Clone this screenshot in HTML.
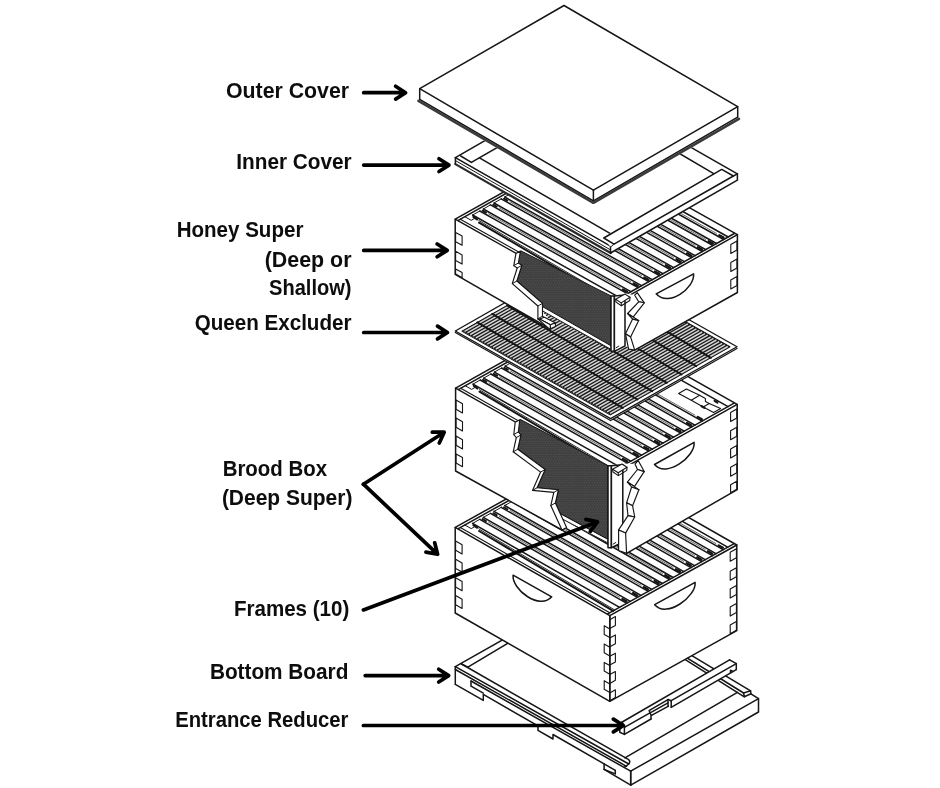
<!DOCTYPE html>
<html><head><meta charset="utf-8"><title>Beehive components</title>
<style>
html,body{margin:0;padding:0;background:#fff;}
body{width:940px;height:788px;overflow:hidden;}
svg{display:block;}
text{font-family:"Liberation Sans",sans-serif;font-weight:bold;font-size:21.4px;fill:#0a0a0a;}
</style></head><body>
<svg width="940" height="788" viewBox="0 0 940 788">
<rect width="940" height="788" fill="#fff"/>
<defs><pattern id="comb" width="2.6" height="4.4" patternUnits="userSpaceOnUse"><rect width="2.6" height="4.4" fill="#3f3f3f"/><circle cx="0.65" cy="1.1" r="0.5" fill="#636363"/><circle cx="1.95" cy="3.3" r="0.5" fill="#636363"/></pattern><filter id="soft" x="-2%" y="-2%" width="104%" height="104%"><feGaussianBlur stdDeviation="0.33"/></filter></defs>
<g stroke-linecap="round" stroke-linejoin="round" filter="url(#soft)">
<path d="M455.3,666.7 L583.1,594.1 L758.5,698.6 L758.5,712.0 L630.7,785.2 L455.3,684.3Z" fill="#fff" stroke="none"/>
<path d="M455.3,666.7 L583.1,594.1" fill="none" stroke="#141414" stroke-width="1.5" />
<path d="M467.9,667.2 L527.9,631.2" fill="none" stroke="#141414" stroke-width="1.5" />
<path d="M461.5,664.0 L467.9,667.2" fill="none" stroke="#141414" stroke-width="1.5" />
<path d="M750.6,690.8 L670.6,642.8" fill="none" stroke="#141414" stroke-width="1.5" />
<path d="M743.6,693.0 L663.6,643.4" fill="none" stroke="#141414" stroke-width="1.5" />
<path d="M744.3,696.8 L664.3,646.4" fill="none" stroke="#141414" stroke-width="1.5" />
<path d="M743.6,693.0 L750.6,690.8 L750.9,693.8 L744.3,696.8 L743.6,693.0" fill="none" stroke="#141414" stroke-width="1.5" />
<path d="M750.9,693.8 L758.5,698.6" fill="none" stroke="#141414" stroke-width="1.5" />
<path d="M630.7,771.2 L758.5,698.6 L758.5,712.0 L630.7,785.2 L630.7,771.2" fill="none" stroke="#141414" stroke-width="1.5" />
<path d="M630.7,771.2 L630.7,785.2" fill="none" stroke="#141414" stroke-width="1.5" />
<path d="M624.9,757.8 L737.4,692.4" fill="none" stroke="#141414" stroke-width="1.5" />
<path d="M461.5,664.0 L626.5,758.4" fill="none" stroke="#141414" stroke-width="1.5" />
<path d="M455.3,666.7 L628.8,764.0" fill="none" stroke="#141414" stroke-width="1.5" />
<path d="M455.3,669.5 L626.5,766.3" fill="none" stroke="#141414" stroke-width="1.5" />
<path d="M471.0,681.0 L630.7,771.2" fill="none" stroke="#141414" stroke-width="1.5" />
<path d="M626.5,758.4 Q631.5,760.5 628.8,764 L624.5,767.2" fill="none" stroke="#141414" stroke-width="1.5"/>
<path d="M455.3,666.7 L455.3,684.3" fill="none" stroke="#141414" stroke-width="1.5" />
<path d="M455.3,684.3 L483.3,700.4 L483.3,694.4 L538.0,725.9 L538.0,730.4 L553.0,739.0 L553.0,734.5 L604.1,763.9 L604.1,769.4 L615.3,773.9 L615.3,770.4" fill="none" stroke="#141414" stroke-width="1.5" />
<path d="M604.1,763.9 L615.3,770.4" fill="none" stroke="#141414" stroke-width="1.5" />
<path d="M604.1,769.4 L630.7,785.2" fill="none" stroke="#141414" stroke-width="1.5" />
<path d="M471.0,681.0 L471.0,686.2 L483.3,693.2" fill="none" stroke="#141414" stroke-width="1.5" />
<path d="M622.2,722.0 L729.6,659.8 L736.3,663.6 L736.3,669.6 L624.4,734.4 L619.6,732.0 L619.6,727.0Z" fill="#fff" stroke="none"/>
<path d="M622.2,722.0 L729.6,659.8" fill="none" stroke="#141414" stroke-width="1.5" />
<path d="M624.4,727.4 L650.4,712.6" fill="none" stroke="#141414" stroke-width="1.5" />
<path d="M624.4,734.4 L651.0,719.0" fill="none" stroke="#141414" stroke-width="1.5" />
<path d="M651.0,719.0 L651.0,715.0 L649.2,710.6" fill="none" stroke="#141414" stroke-width="1.5" />
<path d="M649.4,710.3 L668.0,699.7" fill="none" stroke="#141414" stroke-width="1.5" />
<path d="M651.5,712.1 L668.0,702.9" fill="none" stroke="#141414" stroke-width="1.5" />
<path d="M651.5,715.3 L668.5,706.1" fill="none" stroke="#141414" stroke-width="1.5" />
<path d="M668.0,699.5 L668.0,706.1" fill="none" stroke="#141414" stroke-width="1.5" />
<path d="M671.2,700.7 L671.2,707.3" fill="none" stroke="#141414" stroke-width="1.5" />
<path d="M668.0,699.5 L671.2,700.7" fill="none" stroke="#141414" stroke-width="1.5" />
<path d="M671.2,700.7 L736.3,663.6" fill="none" stroke="#141414" stroke-width="1.5" />
<path d="M671.2,707.3 L736.3,669.6" fill="none" stroke="#141414" stroke-width="1.5" />
<path d="M729.6,659.8 L736.3,663.6 L736.3,669.6" fill="none" stroke="#141414" stroke-width="1.5" />
<path d="M733.0,671.4 L730.5,670.2 L730.5,672.8" fill="none" stroke="#141414" stroke-width="1.5" />
<path d="M622.2,722 L624.4,727.4 L624.4,734.4 L619.8,732.2 L619.8,726.5 Q620,723 622.2,722Z" fill="#fff" stroke="#141414" stroke-width="1.5"/>
<path d="M455.2,527.4 L582.2,456.7 L736.8,545.0 L736.8,630.6 L609.8,701.3 L455.2,613.0Z" fill="#fff" stroke="none"/>
<path d="M455.2,527.4 L582.2,456.7 L736.8,545.0 L609.8,615.7Z" fill="none" stroke="#141414" stroke-width="1.5" />
<path d="M460.3,527.5 L609.7,612.8" fill="none" stroke="#141414" stroke-width="1.1" />
<path d="M458.3,528.6 L584.3,458.5" fill="none" stroke="#141414" stroke-width="1.5" />
<path d="M607.7,613.9 L733.7,543.8" fill="none" stroke="#141414" stroke-width="1.5" />
<path d="M578.2,461.9 L727.6,547.2" fill="none" stroke="#141414" stroke-width="1.5" />
<path d="M479.1,531.0 L613.1,610.9" fill="none" stroke="#141414" stroke-width="2.0" />
<path d="M478.8,528.9 L614.8,610.0" fill="none" stroke="#141414" stroke-width="0.9" />
<path d="M473.4,525.2 L477.0,527.7" fill="none" stroke="#141414" stroke-width="2.2" />
<path d="M464.8,525.0 L471.2,528.6 L474.2,527.0" fill="none" stroke="#141414" stroke-width="1.0" />
<path d="M472.6,523.4 L619.6,607.3" fill="none" stroke="#141414" stroke-width="1.5" />
<path d="M479.8,519.3 L626.8,603.3" fill="none" stroke="#141414" stroke-width="1.5" />
<path d="M472.6,523.4 L479.8,519.3" fill="none" stroke="#141414" stroke-width="1.0" />
<path d="M488.6,522.3 L619.6,597.2" fill="none" stroke="#444" stroke-width="0.8" />
<path d="M622.4,599.0 L626.6,601.4" fill="none" stroke="#141414" stroke-width="2.3" />
<path d="M482.6,519.1 L486.0,521.1" fill="none" stroke="#141414" stroke-width="1.9" />
<path d="M483.3,517.4 L630.3,601.4" fill="none" stroke="#141414" stroke-width="1.5" />
<path d="M490.5,513.4 L637.5,597.3" fill="none" stroke="#141414" stroke-width="1.5" />
<path d="M483.3,517.4 L490.5,513.4" fill="none" stroke="#141414" stroke-width="1.0" />
<path d="M499.3,516.4 L630.3,591.2" fill="none" stroke="#444" stroke-width="0.8" />
<path d="M633.1,593.0 L637.3,595.4" fill="none" stroke="#141414" stroke-width="2.3" />
<path d="M493.3,513.2 L496.7,515.1" fill="none" stroke="#141414" stroke-width="1.9" />
<path d="M494.0,511.4 L641.0,595.4" fill="none" stroke="#141414" stroke-width="1.5" />
<path d="M501.2,507.4 L648.2,591.4" fill="none" stroke="#141414" stroke-width="1.5" />
<path d="M494.0,511.4 L501.2,507.4" fill="none" stroke="#141414" stroke-width="1.0" />
<path d="M510.0,510.4 L641.0,585.2" fill="none" stroke="#444" stroke-width="0.8" />
<path d="M643.8,587.1 L648.0,589.5" fill="none" stroke="#141414" stroke-width="2.3" />
<path d="M504.0,507.2 L507.4,509.2" fill="none" stroke="#141414" stroke-width="1.9" />
<path d="M504.7,505.5 L651.7,589.4" fill="none" stroke="#141414" stroke-width="1.5" />
<path d="M511.9,501.5 L658.9,585.4" fill="none" stroke="#141414" stroke-width="1.5" />
<path d="M504.7,505.5 L511.9,501.5" fill="none" stroke="#141414" stroke-width="1.0" />
<path d="M520.7,504.5 L651.7,579.3" fill="none" stroke="#444" stroke-width="0.8" />
<path d="M654.5,581.1 L658.7,583.5" fill="none" stroke="#141414" stroke-width="2.3" />
<path d="M514.7,501.3 L518.1,503.2" fill="none" stroke="#141414" stroke-width="1.9" />
<path d="M515.4,499.5 L662.4,583.5" fill="none" stroke="#141414" stroke-width="1.5" />
<path d="M522.6,495.5 L669.6,579.5" fill="none" stroke="#141414" stroke-width="1.5" />
<path d="M515.4,499.5 L522.6,495.5" fill="none" stroke="#141414" stroke-width="1.0" />
<path d="M531.4,498.5 L662.4,573.3" fill="none" stroke="#444" stroke-width="0.8" />
<path d="M665.2,575.2 L669.4,577.6" fill="none" stroke="#141414" stroke-width="2.3" />
<path d="M525.4,495.3 L528.8,497.3" fill="none" stroke="#141414" stroke-width="1.9" />
<path d="M526.1,493.6 L673.1,577.5" fill="none" stroke="#141414" stroke-width="1.5" />
<path d="M533.3,489.6 L680.3,573.5" fill="none" stroke="#141414" stroke-width="1.5" />
<path d="M526.1,493.6 L533.3,489.6" fill="none" stroke="#141414" stroke-width="1.0" />
<path d="M542.1,492.6 L673.1,567.4" fill="none" stroke="#444" stroke-width="0.8" />
<path d="M675.9,569.2 L680.1,571.6" fill="none" stroke="#141414" stroke-width="2.3" />
<path d="M536.1,489.4 L539.5,491.3" fill="none" stroke="#141414" stroke-width="1.9" />
<path d="M536.8,487.6 L683.8,571.6" fill="none" stroke="#141414" stroke-width="1.5" />
<path d="M544.0,483.6 L691.0,567.6" fill="none" stroke="#141414" stroke-width="1.5" />
<path d="M536.8,487.6 L544.0,483.6" fill="none" stroke="#141414" stroke-width="1.0" />
<path d="M552.8,486.6 L683.8,561.4" fill="none" stroke="#444" stroke-width="0.8" />
<path d="M686.6,563.2 L690.8,565.6" fill="none" stroke="#141414" stroke-width="2.3" />
<path d="M546.8,483.4 L550.2,485.3" fill="none" stroke="#141414" stroke-width="1.9" />
<path d="M547.5,481.7 L694.5,565.6" fill="none" stroke="#141414" stroke-width="1.5" />
<path d="M554.7,477.6 L701.7,561.6" fill="none" stroke="#141414" stroke-width="1.5" />
<path d="M547.5,481.7 L554.7,477.6" fill="none" stroke="#141414" stroke-width="1.0" />
<path d="M563.5,480.6 L694.5,555.5" fill="none" stroke="#444" stroke-width="0.8" />
<path d="M697.3,557.3 L701.5,559.7" fill="none" stroke="#141414" stroke-width="2.3" />
<path d="M557.5,477.4 L560.9,479.4" fill="none" stroke="#141414" stroke-width="1.9" />
<path d="M558.2,475.7 L705.2,559.7" fill="none" stroke="#141414" stroke-width="1.5" />
<path d="M565.4,471.7 L712.4,555.7" fill="none" stroke="#141414" stroke-width="1.5" />
<path d="M558.2,475.7 L565.4,471.7" fill="none" stroke="#141414" stroke-width="1.0" />
<path d="M574.2,474.7 L705.2,549.5" fill="none" stroke="#444" stroke-width="0.8" />
<path d="M708.0,551.3 L712.2,553.7" fill="none" stroke="#141414" stroke-width="2.3" />
<path d="M568.2,471.5 L571.6,473.4" fill="none" stroke="#141414" stroke-width="1.9" />
<path d="M568.9,469.7 L715.9,553.7" fill="none" stroke="#141414" stroke-width="1.5" />
<path d="M576.1,465.7 L723.1,549.7" fill="none" stroke="#141414" stroke-width="1.5" />
<path d="M568.9,469.7 L576.1,465.7" fill="none" stroke="#141414" stroke-width="1.0" />
<path d="M584.9,468.7 L715.9,543.6" fill="none" stroke="#444" stroke-width="0.8" />
<path d="M718.7,545.4 L722.9,547.8" fill="none" stroke="#141414" stroke-width="2.3" />
<path d="M578.9,465.5 L582.3,467.5" fill="none" stroke="#141414" stroke-width="1.9" />
<path d="M455.2,527.4 L455.2,613.0 L609.8,701.3 L609.8,615.7" fill="none" stroke="#141414" stroke-width="1.5" />
<path d="M609.8,615.7 L609.8,701.3 L736.8,630.6 L736.8,545.0" fill="none" stroke="#141414" stroke-width="1.5" />
<path d="M455.6,541.1 L462.1,544.8 L462.1,554.0 L455.6,550.3Z" fill="none" stroke="#141414" stroke-width="1.1" />
<path d="M455.6,559.2 L462.1,562.9 L462.1,572.1 L455.6,568.4Z" fill="none" stroke="#141414" stroke-width="1.1" />
<path d="M455.6,577.8 L462.1,581.5 L462.1,590.7 L455.6,587.0Z" fill="none" stroke="#141414" stroke-width="1.1" />
<path d="M455.6,595.6 L462.1,599.3 L462.1,608.5 L455.6,604.8Z" fill="none" stroke="#141414" stroke-width="1.1" />
<path d="M736.4,548.8 L730.2,552.3 L730.2,561.3 L736.4,557.8Z" fill="none" stroke="#141414" stroke-width="1.1" />
<path d="M736.4,567.8 L730.2,571.3 L730.2,580.3 L736.4,576.8Z" fill="none" stroke="#141414" stroke-width="1.1" />
<path d="M736.4,585.6 L730.2,589.1 L730.2,598.1 L736.4,594.6Z" fill="none" stroke="#141414" stroke-width="1.1" />
<path d="M736.4,603.6 L730.2,607.1 L730.2,616.1 L736.4,612.6Z" fill="none" stroke="#141414" stroke-width="1.1" />
<path d="M736.4,621.6 L730.2,625.1 L730.2,633.8 L736.4,630.3Z" fill="none" stroke="#141414" stroke-width="1.1" />
<path d="M609.8,619.7 L615.4,616.6 L615.4,625.4 L609.8,628.5" fill="none" stroke="#141414" stroke-width="1.1" />
<path d="M609.8,629.0 L604.2,625.8 L604.2,634.4 L609.8,637.6" fill="none" stroke="#141414" stroke-width="1.1" />
<path d="M609.8,638.0 L615.4,634.9 L615.4,643.7 L609.8,646.8" fill="none" stroke="#141414" stroke-width="1.1" />
<path d="M609.8,647.3 L604.2,644.1 L604.2,652.7 L609.8,655.9" fill="none" stroke="#141414" stroke-width="1.1" />
<path d="M609.8,656.3 L615.4,653.2 L615.4,662.0 L609.8,665.1" fill="none" stroke="#141414" stroke-width="1.1" />
<path d="M609.8,665.6 L604.2,662.4 L604.2,671.0 L609.8,674.2" fill="none" stroke="#141414" stroke-width="1.1" />
<path d="M609.8,674.6 L615.4,671.5 L615.4,680.3 L609.8,683.4" fill="none" stroke="#141414" stroke-width="1.1" />
<path d="M609.8,683.9 L604.2,680.7 L604.2,689.3 L609.8,692.5" fill="none" stroke="#141414" stroke-width="1.1" />
<path d="M609.8,692.9 L615.4,689.8 L615.4,697.6 L609.8,700.7" fill="none" stroke="#141414" stroke-width="1.1" />
<path d="M654.7,604.7 L695.1,582.3 C696.6,596.3 666.7,618.7 654.7,604.7" fill="none" stroke="#141414" stroke-width="1.5"/>
<path d="M551.7,596.8 L513.1,575.2 C511.6,589.2 539.7,610.8 551.7,596.8" fill="none" stroke="#141414" stroke-width="1.5"/>
<path d="M455.6,388.2 L582.5,317.0 L737.2,404.4 L737.2,489.6 L626.6,553.3 L622.8,542.2 L611.4,547.7 L608.0,547.7 L608.0,543.0 L559.1,517.3 L566.6,527.4 L562.0,530.0 L455.6,471.0Z" fill="#fff" stroke="none"/>
<path d="M455.6,388.2 L582.5,317.0 L737.2,404.4 L610.3,475.6Z" fill="none" stroke="#141414" stroke-width="1.5" />
<path d="M460.7,388.3 L610.2,472.7" fill="none" stroke="#141414" stroke-width="1.1" />
<path d="M458.7,389.4 L584.6,318.7" fill="none" stroke="#141414" stroke-width="1.5" />
<path d="M608.2,473.9 L734.1,403.2" fill="none" stroke="#141414" stroke-width="1.5" />
<path d="M578.5,322.2 L728.0,406.6" fill="none" stroke="#141414" stroke-width="1.5" />
<path d="M479.5,391.7 L613.6,470.8" fill="none" stroke="#141414" stroke-width="2.0" />
<path d="M479.2,389.6 L615.3,469.9" fill="none" stroke="#141414" stroke-width="0.9" />
<path d="M473.8,385.9 L477.4,388.4" fill="none" stroke="#141414" stroke-width="2.2" />
<path d="M465.2,385.7 L471.6,389.4 L474.6,387.7" fill="none" stroke="#141414" stroke-width="1.0" />
<path d="M473.0,384.1 L620.1,467.2" fill="none" stroke="#141414" stroke-width="1.5" />
<path d="M480.2,380.0 L627.3,463.1" fill="none" stroke="#141414" stroke-width="1.5" />
<path d="M473.0,384.1 L480.2,380.0" fill="none" stroke="#141414" stroke-width="1.0" />
<path d="M489.0,383.0 L620.1,457.0" fill="none" stroke="#444" stroke-width="0.8" />
<path d="M622.9,458.9 L627.1,461.2" fill="none" stroke="#141414" stroke-width="2.3" />
<path d="M483.0,379.8 L486.4,381.7" fill="none" stroke="#141414" stroke-width="1.9" />
<path d="M483.7,378.1 L630.8,461.2" fill="none" stroke="#141414" stroke-width="1.5" />
<path d="M490.9,374.0 L638.0,457.1" fill="none" stroke="#141414" stroke-width="1.5" />
<path d="M483.7,378.1 L490.9,374.0" fill="none" stroke="#141414" stroke-width="1.0" />
<path d="M499.7,377.0 L630.8,451.1" fill="none" stroke="#444" stroke-width="0.8" />
<path d="M633.6,452.9 L637.8,455.2" fill="none" stroke="#141414" stroke-width="2.3" />
<path d="M493.7,373.8 L497.1,375.7" fill="none" stroke="#141414" stroke-width="1.9" />
<path d="M494.4,372.1 L641.5,455.2" fill="none" stroke="#141414" stroke-width="1.5" />
<path d="M501.6,368.0 L648.7,451.1" fill="none" stroke="#141414" stroke-width="1.5" />
<path d="M494.4,372.1 L501.6,368.0" fill="none" stroke="#141414" stroke-width="1.0" />
<path d="M510.4,371.0 L641.5,445.1" fill="none" stroke="#444" stroke-width="0.8" />
<path d="M644.3,446.9 L648.5,449.2" fill="none" stroke="#141414" stroke-width="2.3" />
<path d="M504.4,367.8 L507.8,369.7" fill="none" stroke="#141414" stroke-width="1.9" />
<path d="M505.1,366.1 L652.2,449.2" fill="none" stroke="#141414" stroke-width="1.5" />
<path d="M512.3,362.0 L659.4,445.1" fill="none" stroke="#141414" stroke-width="1.5" />
<path d="M505.1,366.1 L512.3,362.0" fill="none" stroke="#141414" stroke-width="1.0" />
<path d="M521.1,365.0 L652.2,439.1" fill="none" stroke="#444" stroke-width="0.8" />
<path d="M655.0,440.9 L659.2,443.2" fill="none" stroke="#141414" stroke-width="2.3" />
<path d="M515.1,361.8 L518.5,363.7" fill="none" stroke="#141414" stroke-width="1.9" />
<path d="M515.8,360.1 L662.9,443.2" fill="none" stroke="#141414" stroke-width="1.5" />
<path d="M523.0,356.0 L670.1,439.1" fill="none" stroke="#141414" stroke-width="1.5" />
<path d="M515.8,360.1 L523.0,356.0" fill="none" stroke="#141414" stroke-width="1.0" />
<path d="M531.7,359.0 L662.8,433.1" fill="none" stroke="#444" stroke-width="0.8" />
<path d="M665.6,434.9 L669.8,437.2" fill="none" stroke="#141414" stroke-width="2.3" />
<path d="M525.7,355.8 L529.1,357.7" fill="none" stroke="#141414" stroke-width="1.9" />
<path d="M526.4,354.1 L673.5,437.2" fill="none" stroke="#141414" stroke-width="1.5" />
<path d="M533.6,350.0 L680.7,433.1" fill="none" stroke="#141414" stroke-width="1.5" />
<path d="M526.4,354.1 L533.6,350.0" fill="none" stroke="#141414" stroke-width="1.0" />
<path d="M542.4,353.0 L673.5,427.1" fill="none" stroke="#444" stroke-width="0.8" />
<path d="M676.3,428.9 L680.5,431.2" fill="none" stroke="#141414" stroke-width="2.3" />
<path d="M536.4,349.8 L539.8,351.7" fill="none" stroke="#141414" stroke-width="1.9" />
<path d="M537.1,348.1 L684.2,431.2" fill="none" stroke="#141414" stroke-width="1.5" />
<path d="M544.3,344.0 L691.4,427.2" fill="none" stroke="#141414" stroke-width="1.5" />
<path d="M537.1,348.1 L544.3,344.0" fill="none" stroke="#141414" stroke-width="1.0" />
<path d="M553.1,347.0 L684.2,421.1" fill="none" stroke="#444" stroke-width="0.8" />
<path d="M687.0,422.9 L691.2,425.2" fill="none" stroke="#141414" stroke-width="2.3" />
<path d="M547.1,343.8 L550.5,345.7" fill="none" stroke="#141414" stroke-width="1.9" />
<path d="M547.8,342.1 L694.9,425.2" fill="none" stroke="#141414" stroke-width="1.5" />
<path d="M555.0,338.0 L702.1,421.2" fill="none" stroke="#141414" stroke-width="1.5" />
<path d="M547.8,342.1 L555.0,338.0" fill="none" stroke="#141414" stroke-width="1.0" />
<path d="M563.8,341.0 L694.9,415.1" fill="none" stroke="#444" stroke-width="0.8" />
<path d="M697.7,416.9 L701.9,419.2" fill="none" stroke="#141414" stroke-width="2.3" />
<path d="M557.8,337.8 L561.2,339.7" fill="none" stroke="#141414" stroke-width="1.9" />
<path d="M455.6,388.2 L455.6,471.0 L562.0,530.0" fill="none" stroke="#141414" stroke-width="1.5" />
<path d="M626.6,553.3 L737.2,489.6 L737.2,404.4" fill="none" stroke="#141414" stroke-width="1.5" />
<path d="M456.0,400.0 L462.5,403.7 L462.5,412.9 L456.0,409.2Z" fill="none" stroke="#141414" stroke-width="1.1" />
<path d="M456.0,418.1 L462.5,421.8 L462.5,431.0 L456.0,427.3Z" fill="none" stroke="#141414" stroke-width="1.1" />
<path d="M456.0,436.0 L462.5,439.7 L462.5,448.9 L456.0,445.2Z" fill="none" stroke="#141414" stroke-width="1.1" />
<path d="M456.0,453.9 L462.5,457.6 L462.5,466.8 L456.0,463.1Z" fill="none" stroke="#141414" stroke-width="1.1" />
<path d="M736.8,408.9 L730.6,412.4 L730.6,421.4 L736.8,417.9Z" fill="none" stroke="#141414" stroke-width="1.1" />
<path d="M736.8,427.2 L730.6,430.7 L730.6,439.7 L736.8,436.2Z" fill="none" stroke="#141414" stroke-width="1.1" />
<path d="M736.8,445.5 L730.6,449.0 L730.6,458.0 L736.8,454.5Z" fill="none" stroke="#141414" stroke-width="1.1" />
<path d="M736.8,463.8 L730.6,467.3 L730.6,476.3 L736.8,472.8Z" fill="none" stroke="#141414" stroke-width="1.1" />
<path d="M736.8,481.3 L730.6,484.8 L730.6,492.8 L736.8,489.3Z" fill="none" stroke="#141414" stroke-width="1.1" />
<path d="M654.5,464.5 L694.1,442.4 C695.6,456.4 666.5,478.5 654.5,464.5" fill="none" stroke="#141414" stroke-width="1.5"/>
<path d="M678.6,393.4 L686.4,389.0 L699.6,395.3 L691.3,400.3Z" fill="none" stroke="#141414" stroke-width="1.1" />
<path d="M703.2,406.9 L709.2,403.6 L720.6,408.6 L713.6,412.4Z" fill="none" stroke="#141414" stroke-width="1.1" />
<path d="M691.3,400.3 L703.2,406.9" fill="none" stroke="#141414" stroke-width="1.1" />
<path d="M699.6,395.3 L705.4,398.4 L705.4,401.6 L709.2,403.6" fill="none" stroke="#141414" stroke-width="1.1" />
<path d="M701.6,406.2 L704.4,407.8" fill="none" stroke="#141414" stroke-width="2.2" />
<path d="M714.6,400.9 L717.4,402.5" fill="none" stroke="#141414" stroke-width="2.2" />
<path d="M515.2,422.3 L513.8,434.5 L516.3,437.6 L513.2,451.8 L540.6,472.1 L532.5,490.4 L553.8,492.4 L550.8,505.6 L562.0,530.0 L566.6,527.4 L559.1,517.3 L608.0,543.0 L608.0,547.7 L611.4,547.7 L622.8,542.2 L626.6,553.3 L625.6,533.1 L634.7,517.0 L632.6,505.8 L638.9,489.8 L634.4,486.6 L644.2,471.6 L638.2,460.5 L635.0,464.0 L624.5,463.5 L608.0,465.8 L520.6,419.6Z" fill="#fff" stroke="none"/>
<path d="M520.6,419.6 L608.0,465.8 L608.0,539.4 L560.3,513.7 L555.4,503.0 L558.4,489.8 L537.1,487.8 L545.2,469.5 L517.8,449.2 L520.9,435.0 L518.4,431.9Z" fill="url(#comb)" stroke="#141414" stroke-width="1"/>
<path d="M560.3,513.7 L608.0,539.4 L608.0,543.0 L559.1,517.3Z" fill="#fff" stroke="#141414" stroke-width="1.0" />
<path d="M608.0,465.8 L611.4,465.8 L611.4,547.7 L608.0,547.7Z" fill="#fff" stroke="#141414" stroke-width="1.5" />
<path d="M611.4,465.8 L622.8,464.8 L622.8,542.2 L611.4,547.7Z" fill="#fff" stroke="#141414" stroke-width="1.5" />
<path d="M613.2,544.1 L615.8,542.5" fill="none" stroke="#141414" stroke-width="1.0" />
<path d="M612.6,469.2 L622.0,464.0 L627.0,467.2 L618.2,472.8Z" fill="#fff" stroke="#141414" stroke-width="1.1" />
<path d="M612.6,469.2 L613.0,472.0 L618.4,475.6 L626.8,470.4 L627.0,467.2" fill="none" stroke="#141414" stroke-width="1.1" />
<path d="M618.2,472.8 L618.4,475.6" fill="none" stroke="#141414" stroke-width="1.0" />
<path d="M515.2,422.3 L513.8,434.5 L516.3,437.6 L513.2,451.8 L540.6,472.1 L532.5,490.4 L553.8,492.4 L550.8,505.6 L562.0,530.0 L566.6,527.4 L555.4,503.0 L558.4,489.8 L537.1,487.8 L545.2,469.5 L517.8,449.2 L520.9,435.0 L518.4,431.9 L519.8,419.7Z" fill="#fff" stroke="#141414" stroke-width="1.15" />
<path d="M513.8,434.5 L518.4,431.9" fill="none" stroke="#141414" stroke-width="1.0" />
<path d="M516.3,437.6 L520.9,435.0" fill="none" stroke="#141414" stroke-width="1.0" />
<path d="M513.2,451.8 L517.8,449.2" fill="none" stroke="#141414" stroke-width="1.0" />
<path d="M540.6,472.1 L545.2,469.5" fill="none" stroke="#141414" stroke-width="1.0" />
<path d="M532.5,490.4 L537.1,487.8" fill="none" stroke="#141414" stroke-width="1.0" />
<path d="M553.8,492.4 L558.4,489.8" fill="none" stroke="#141414" stroke-width="1.0" />
<path d="M550.8,505.6 L555.4,503.0" fill="none" stroke="#141414" stroke-width="1.0" />
<path d="M638.2,460.5 L644.2,471.6 L637.5,469.5 L635.0,464.0Z" fill="#fff" stroke="#141414" stroke-width="1.15" />
<path d="M637.5,469.5 L644.2,471.6 L634.4,486.6 L627.4,482.1Z" fill="#fff" stroke="#141414" stroke-width="1.15" />
<path d="M627.4,482.1 L634.4,486.6 L638.9,489.8 L631.6,487.0Z" fill="#fff" stroke="#141414" stroke-width="1.15" />
<path d="M631.6,487.0 L638.9,489.8 L632.6,505.8 L626.6,502.8Z" fill="#fff" stroke="#141414" stroke-width="1.15" />
<path d="M626.6,502.8 L632.6,505.8 L634.7,517.0 L628.0,515.6Z" fill="#fff" stroke="#141414" stroke-width="1.15" />
<path d="M628.0,515.6 L634.7,517.0 L625.6,533.1 L618.6,529.9Z" fill="#fff" stroke="#141414" stroke-width="1.15" />
<path d="M618.6,529.9 L625.6,533.1 L626.6,553.3 L618.6,550.5Z" fill="#fff" stroke="#141414" stroke-width="1.15" />
<path d="M455.3,331.0 L581.7,259.2 L737.0,346.8 L737.0,348.3 L610.6,420.4 L455.3,332.5Z" fill="#fff" stroke="none"/>
<path d="M455.3,331.0 L581.7,259.2 L737.0,346.8 L610.6,418.6Z" fill="none" stroke="#141414" stroke-width="1.3" />
<path d="M455.3,332.6 L610.6,420.6 L737.0,348.4" fill="none" stroke="#141414" stroke-width="1.2" />
<path d="M462.1,331.0 L581.7,263.0 L730.2,346.8 L610.6,414.8Z" fill="#1b1b1b" stroke="#141414" stroke-width="1.0" />
<path d="M464.5,331.3 L582.3,264.4 M467.4,332.9 L585.2,266.0 M470.2,334.5 L588.0,267.6 M473.1,336.1 L590.9,269.2 M475.9,337.8 L593.7,270.8 M478.8,339.4 L596.6,272.5 M481.6,341.0 L599.4,274.1 M484.5,342.6 L602.3,275.7 M487.3,344.2 L605.1,277.3 M490.2,345.8 L608.0,278.9 M493.0,347.4 L610.8,280.5 M495.9,349.0 L613.7,282.1 M498.7,350.6 L616.5,283.7 M501.6,352.2 L619.4,285.3 M504.4,353.9 L622.2,286.9 M507.3,355.5 L625.1,288.5 M510.1,357.1 L627.9,290.2 M513.0,358.7 L630.8,291.8 M515.9,360.3 L633.7,293.4 M518.7,361.9 L636.5,295.0 M521.6,363.5 L639.4,296.6 M524.4,365.1 L642.2,298.2 M527.3,366.7 L645.1,299.8 M530.1,368.3 L647.9,301.4 M533.0,369.9 L650.8,303.0 M535.8,371.6 L653.6,304.6 M538.7,373.2 L656.5,306.2 M541.5,374.8 L659.3,307.9 M544.4,376.4 L662.2,309.5 M547.2,378.0 L665.0,311.1 M550.1,379.6 L667.9,312.7 M552.9,381.2 L670.7,314.3 M555.8,382.8 L673.6,315.9 M558.6,384.4 L676.4,317.5 M561.5,386.0 L679.3,319.1 M564.4,387.6 L682.2,320.7 M567.2,389.3 L685.0,322.3 M570.1,390.9 L687.9,323.9 M572.9,392.5 L690.7,325.6 M575.8,394.1 L693.6,327.2 M578.6,395.7 L696.4,328.8 M581.5,397.3 L699.3,330.4 M584.3,398.9 L702.1,332.0 M587.2,400.5 L705.0,333.6 M590.0,402.1 L707.8,335.2 M592.9,403.7 L710.7,336.8 M595.7,405.3 L713.5,338.4 M598.6,407.0 L716.4,340.0 M601.4,408.6 L719.2,341.7 M604.3,410.2 L722.1,343.3 M607.1,411.8 L724.9,344.9 M610.0,413.4 L727.8,346.5" fill="none" stroke="#d6d6d6" stroke-width="1.45" stroke-linecap="butt"/>
<path d="M477.3,322.4 L622.7,407.9 M492.2,313.9 L637.4,399.5 M507.1,305.4 L652.1,391.2 M522.0,297.0 L666.8,382.8 M536.9,288.5 L681.5,374.5 M551.8,280.0 L696.2,366.1 M566.7,271.6 L710.9,357.8" fill="none" stroke="#141414" stroke-width="2.0"/>
<path d="M455.2,219.2 L582.3,147.7 L737.4,234.7 L737.4,292.5 L634.7,350.1 L625.0,345.8 L614.4,351.3 L611.0,351.3 L611.0,349.4 L541.3,310.2 L554.6,326.0 L550.0,328.6 L455.2,274.4Z" fill="#fff" stroke="none"/>
<path d="M455.2,219.2 L582.3,147.7 L737.4,234.7 L610.3,306.2Z" fill="none" stroke="#141414" stroke-width="1.5" />
<path d="M460.3,219.3 L610.2,303.3" fill="none" stroke="#141414" stroke-width="1.1" />
<path d="M458.3,220.4 L584.4,149.4" fill="none" stroke="#141414" stroke-width="1.5" />
<path d="M608.2,304.5 L734.3,233.5" fill="none" stroke="#141414" stroke-width="1.5" />
<path d="M578.3,152.9 L728.2,237.0" fill="none" stroke="#141414" stroke-width="1.5" />
<path d="M479.1,222.6 L613.6,301.4" fill="none" stroke="#141414" stroke-width="2.0" />
<path d="M478.8,220.5 L615.3,300.5" fill="none" stroke="#141414" stroke-width="0.9" />
<path d="M473.4,216.8 L477.0,219.3" fill="none" stroke="#141414" stroke-width="2.2" />
<path d="M464.8,216.7 L471.2,220.3 L474.2,218.6" fill="none" stroke="#141414" stroke-width="1.0" />
<path d="M472.6,215.0 L620.1,297.8" fill="none" stroke="#141414" stroke-width="1.5" />
<path d="M479.8,211.0 L627.3,293.7" fill="none" stroke="#141414" stroke-width="1.5" />
<path d="M472.6,215.0 L479.8,211.0" fill="none" stroke="#141414" stroke-width="1.0" />
<path d="M488.6,213.9 L620.1,287.6" fill="none" stroke="#444" stroke-width="0.8" />
<path d="M622.9,289.4 L627.1,291.8" fill="none" stroke="#141414" stroke-width="2.3" />
<path d="M482.6,210.7 L486.0,212.6" fill="none" stroke="#141414" stroke-width="1.9" />
<path d="M483.3,209.0 L630.8,291.7" fill="none" stroke="#141414" stroke-width="1.5" />
<path d="M490.5,204.9 L638.0,287.7" fill="none" stroke="#141414" stroke-width="1.5" />
<path d="M483.3,209.0 L490.5,204.9" fill="none" stroke="#141414" stroke-width="1.0" />
<path d="M499.3,207.9 L630.8,281.6" fill="none" stroke="#444" stroke-width="0.8" />
<path d="M633.6,283.4 L637.8,285.8" fill="none" stroke="#141414" stroke-width="2.3" />
<path d="M493.3,204.7 L496.7,206.6" fill="none" stroke="#141414" stroke-width="1.9" />
<path d="M494.0,203.0 L641.5,285.7" fill="none" stroke="#141414" stroke-width="1.5" />
<path d="M501.2,198.9 L648.7,281.7" fill="none" stroke="#141414" stroke-width="1.5" />
<path d="M494.0,203.0 L501.2,198.9" fill="none" stroke="#141414" stroke-width="1.0" />
<path d="M510.0,201.8 L641.5,275.6" fill="none" stroke="#444" stroke-width="0.8" />
<path d="M644.3,277.4 L648.5,279.7" fill="none" stroke="#141414" stroke-width="2.3" />
<path d="M504.0,198.7 L507.4,200.6" fill="none" stroke="#141414" stroke-width="1.9" />
<path d="M504.7,197.0 L652.2,279.7" fill="none" stroke="#141414" stroke-width="1.5" />
<path d="M511.9,192.9 L659.4,275.6" fill="none" stroke="#141414" stroke-width="1.5" />
<path d="M504.7,197.0 L511.9,192.9" fill="none" stroke="#141414" stroke-width="1.0" />
<path d="M520.7,195.8 L652.2,269.6" fill="none" stroke="#444" stroke-width="0.8" />
<path d="M655.0,271.4 L659.2,273.7" fill="none" stroke="#141414" stroke-width="2.3" />
<path d="M514.7,192.7 L518.1,194.6" fill="none" stroke="#141414" stroke-width="1.9" />
<path d="M515.4,190.9 L662.9,273.7" fill="none" stroke="#141414" stroke-width="1.5" />
<path d="M522.6,186.9 L670.1,269.6" fill="none" stroke="#141414" stroke-width="1.5" />
<path d="M515.4,190.9 L522.6,186.9" fill="none" stroke="#141414" stroke-width="1.0" />
<path d="M531.5,189.8 L663.0,263.5" fill="none" stroke="#444" stroke-width="0.8" />
<path d="M665.8,265.3 L670.0,267.7" fill="none" stroke="#141414" stroke-width="2.3" />
<path d="M525.5,186.6 L528.9,188.6" fill="none" stroke="#141414" stroke-width="1.9" />
<path d="M526.2,184.9 L673.7,267.6" fill="none" stroke="#141414" stroke-width="1.5" />
<path d="M533.4,180.8 L680.9,263.6" fill="none" stroke="#141414" stroke-width="1.5" />
<path d="M526.2,184.9 L533.4,180.8" fill="none" stroke="#141414" stroke-width="1.0" />
<path d="M542.2,183.8 L673.7,257.5" fill="none" stroke="#444" stroke-width="0.8" />
<path d="M676.5,259.3 L680.7,261.7" fill="none" stroke="#141414" stroke-width="2.3" />
<path d="M536.2,180.6 L539.6,182.5" fill="none" stroke="#141414" stroke-width="1.9" />
<path d="M536.9,178.9 L684.4,261.6" fill="none" stroke="#141414" stroke-width="1.5" />
<path d="M544.1,174.8 L691.6,257.6" fill="none" stroke="#141414" stroke-width="1.5" />
<path d="M536.9,178.9 L544.1,174.8" fill="none" stroke="#141414" stroke-width="1.0" />
<path d="M552.9,177.7 L684.4,251.5" fill="none" stroke="#444" stroke-width="0.8" />
<path d="M687.2,253.3 L691.4,255.7" fill="none" stroke="#141414" stroke-width="2.3" />
<path d="M546.9,174.6 L550.3,176.5" fill="none" stroke="#141414" stroke-width="1.9" />
<path d="M547.6,172.9 L695.1,255.6" fill="none" stroke="#141414" stroke-width="1.5" />
<path d="M554.8,168.8 L702.3,251.5" fill="none" stroke="#141414" stroke-width="1.5" />
<path d="M547.6,172.9 L554.8,168.8" fill="none" stroke="#141414" stroke-width="1.0" />
<path d="M563.6,171.7 L695.1,245.5" fill="none" stroke="#444" stroke-width="0.8" />
<path d="M697.9,247.3 L702.1,249.6" fill="none" stroke="#141414" stroke-width="2.3" />
<path d="M557.6,168.6 L561.0,170.5" fill="none" stroke="#141414" stroke-width="1.9" />
<path d="M558.3,166.8 L705.8,249.6" fill="none" stroke="#141414" stroke-width="1.5" />
<path d="M565.5,162.8 L713.0,245.5" fill="none" stroke="#141414" stroke-width="1.5" />
<path d="M558.3,166.8 L565.5,162.8" fill="none" stroke="#141414" stroke-width="1.0" />
<path d="M574.3,165.7 L705.8,239.5" fill="none" stroke="#444" stroke-width="0.8" />
<path d="M708.6,241.2 L712.8,243.6" fill="none" stroke="#141414" stroke-width="2.3" />
<path d="M568.3,162.6 L571.7,164.5" fill="none" stroke="#141414" stroke-width="1.9" />
<path d="M569.0,160.8 L716.5,243.5" fill="none" stroke="#141414" stroke-width="1.5" />
<path d="M576.2,156.8 L723.7,239.5" fill="none" stroke="#141414" stroke-width="1.5" />
<path d="M569.0,160.8 L576.2,156.8" fill="none" stroke="#141414" stroke-width="1.0" />
<path d="M585.0,159.7 L716.5,233.4" fill="none" stroke="#444" stroke-width="0.8" />
<path d="M719.3,235.2 L723.5,237.6" fill="none" stroke="#141414" stroke-width="2.3" />
<path d="M579.0,156.5 L582.4,158.4" fill="none" stroke="#141414" stroke-width="1.9" />
<path d="M455.2,219.2 L455.2,274.4 L550.0,328.6" fill="none" stroke="#141414" stroke-width="1.5" />
<path d="M634.7,350.1 L737.4,292.5 L737.4,234.7" fill="none" stroke="#141414" stroke-width="1.5" />
<path d="M455.6,232.5 L462.1,236.1 L462.1,245.3 L455.6,241.7Z" fill="none" stroke="#141414" stroke-width="1.1" />
<path d="M455.6,251.3 L462.1,254.9 L462.1,264.1 L455.6,260.5Z" fill="none" stroke="#141414" stroke-width="1.1" />
<path d="M455.6,269.0 L462.1,272.6 L462.1,277.7 L455.6,274.1Z" fill="none" stroke="#141414" stroke-width="1.1" />
<path d="M737.0,240.9 L730.8,244.4 L730.8,253.4 L737.0,249.9Z" fill="none" stroke="#141414" stroke-width="1.1" />
<path d="M737.0,259.0 L730.8,262.5 L730.8,271.5 L737.0,268.0Z" fill="none" stroke="#141414" stroke-width="1.1" />
<path d="M737.0,276.5 L730.8,280.0 L730.8,289.0 L737.0,285.5Z" fill="none" stroke="#141414" stroke-width="1.1" />
<path d="M656.2,293.8 L693.6,273.9 C695.1,287.9 668.2,307.8 656.2,293.8" fill="none" stroke="#141414" stroke-width="1.5"/>
<path d="M515.9,253.6 L513.8,265.6 L517.2,268.0 L512.3,283.6 L537.9,306.0 L537.9,318.8 L550.0,328.6 L554.6,326.0 L541.3,310.2 L611.0,349.4 L611.0,351.3 L614.4,351.3 L625.0,345.8 L634.7,350.1 L630.6,336.9 L638.7,320.6 L633.1,317.1 L644.3,302.8 L637.2,292.7 L634.7,295.2 L626.5,293.5 L611.0,295.9 L521.3,251.1Z" fill="#fff" stroke="none"/>
<path d="M521.3,251.1 L611.0,295.9 L611.0,345.8 L542.5,306.6 L542.5,303.4 L516.9,281.0 L521.8,265.4 L518.4,263.0Z" fill="url(#comb)" stroke="#141414" stroke-width="1"/>
<path d="M542.5,306.6 L611.0,345.8 L611.0,349.4 L541.3,310.2Z" fill="#fff" stroke="#141414" stroke-width="1.0" />
<path d="M611.0,295.9 L614.4,295.9 L614.4,351.3 L611.0,351.3Z" fill="#fff" stroke="#141414" stroke-width="1.5" />
<path d="M614.4,295.9 L625.0,294.9 L625.0,345.8 L614.4,351.3Z" fill="#fff" stroke="#141414" stroke-width="1.5" />
<path d="M616.2,347.7 L618.8,346.1" fill="none" stroke="#141414" stroke-width="1.0" />
<path d="M615.6,299.3 L625.0,294.1 L630.0,297.3 L621.2,302.9Z" fill="#fff" stroke="#141414" stroke-width="1.1" />
<path d="M615.6,299.3 L616.0,302.1 L621.4,305.7 L629.8,300.5 L630.0,297.3" fill="none" stroke="#141414" stroke-width="1.1" />
<path d="M621.2,302.9 L621.4,305.7" fill="none" stroke="#141414" stroke-width="1.0" />
<path d="M515.9,253.6 L513.8,265.6 L517.2,268.0 L512.3,283.6 L537.9,306.0 L537.9,318.8 L550.0,328.6 L554.6,326.0 L542.5,316.2 L542.5,303.4 L516.9,281.0 L521.8,265.4 L518.4,263.0 L520.5,251.0Z" fill="#fff" stroke="#141414" stroke-width="1.15" />
<path d="M513.8,265.6 L518.4,263.0" fill="none" stroke="#141414" stroke-width="1.0" />
<path d="M517.2,268.0 L521.8,265.4" fill="none" stroke="#141414" stroke-width="1.0" />
<path d="M512.3,283.6 L516.9,281.0" fill="none" stroke="#141414" stroke-width="1.0" />
<path d="M537.9,306.0 L542.5,303.4" fill="none" stroke="#141414" stroke-width="1.0" />
<path d="M537.9,318.8 L542.5,316.2" fill="none" stroke="#141414" stroke-width="1.0" />
<path d="M637.2,292.7 L644.3,302.8 L638.7,301.8 L634.7,295.2Z" fill="#fff" stroke="#141414" stroke-width="1.15" />
<path d="M638.7,301.8 L644.3,302.8 L633.1,317.1 L627.6,313.5Z" fill="#fff" stroke="#141414" stroke-width="1.15" />
<path d="M627.6,313.5 L633.1,317.1 L638.7,320.6 L632.6,319.1Z" fill="#fff" stroke="#141414" stroke-width="1.15" />
<path d="M632.6,319.1 L638.7,320.6 L630.6,336.9 L625.5,333.8Z" fill="#fff" stroke="#141414" stroke-width="1.15" />
<path d="M625.5,333.8 L630.6,336.9 L634.7,350.1 L628.6,349.0Z" fill="#fff" stroke="#141414" stroke-width="1.15" />
<path d="M539.6,319.0 L544.4,317.3 L555.4,323.0 L550.4,324.8Z" fill="#fff" stroke="#141414" stroke-width="1.1" />
<path d="M537.9,318.9 L539.6,319.0 L550.4,324.8 L550.4,328.8 L549.4,328.9Z" fill="#fff" stroke="#141414" stroke-width="1.1" />
<path d="M550.4,324.8 L555.4,323.0 L555.4,326.4 L550.4,328.8Z" fill="#fff" stroke="#141414" stroke-width="1.1" />
<path d="M455.4,157.7 L581.5,84.9 L737.4,173.8 L737.4,180.2 L611.3,253.0 L455.4,164.1Z" fill="#fff" stroke="none"/>
<path d="M455.4,157.7 L581.5,84.9 L737.4,173.8" fill="none" stroke="#141414" stroke-width="1.5" />
<path d="M455.4,157.7 L612.3,247.2" fill="none" stroke="#141414" stroke-width="1.5" />
<path d="M456.0,160.9 L610.7,250.0" fill="none" stroke="#141414" stroke-width="1.0" />
<path d="M455.4,164.1 L610.7,253.0" fill="none" stroke="#2a2a2a" stroke-width="2.2" />
<path d="M455.4,157.7 L455.4,164.1" fill="none" stroke="#141414" stroke-width="1.5" />
<path d="M460.7,156.0 L471.4,162.4" fill="none" stroke="#141414" stroke-width="1.5" />
<path d="M471.4,162.4 L511.4,139.3" fill="none" stroke="#141414" stroke-width="1.5" />
<path d="M479.9,158.2 L610.0,233.4" fill="none" stroke="#141414" stroke-width="1.5" />
<path d="M603.8,238.0 L610.0,233.4 L721.7,169.4 L733.4,176.0 L737.4,173.8 L737.4,180.2 L610.7,253.0 L610.5,247.0Z" fill="#fff" stroke="none"/>
<path d="M603.8,238.0 L614.0,244.2 L733.4,176.0 L721.7,169.4Z" fill="#fff" stroke="#141414" stroke-width="1.5" />
<path d="M733.4,176.0 L737.4,173.8" fill="none" stroke="#141414" stroke-width="1.5" />
<path d="M610.5,247.0 L610.5,253.0 L737.4,180.2 L737.4,173.8" fill="none" stroke="#141414" stroke-width="1.5" />
<path d="M614.0,244.2 L610.5,247.0" fill="none" stroke="#141414" stroke-width="1.0" />
<path d="M649.7,136.0 L713.7,173.6" fill="none" stroke="#141414" stroke-width="1.5" />
<path d="M564.0,5.5 L419.7,88.7 L418.2,102.3 L593.4,204.3 L739.2,120.2 L737.7,106.6Z" fill="#fff" stroke="none"/>
<path d="M564.0,5.5 L419.7,88.7 L593.4,190.2 L737.7,106.6Z" fill="none" stroke="#141414" stroke-width="1.5" />
<path d="M419.7,88.7 L419.7,99.3 L593.4,200.8 L737.7,117.2 L737.7,106.6" fill="none" stroke="#141414" stroke-width="1.5" />
<path d="M593.4,190.2 L593.4,200.8" fill="none" stroke="#141414" stroke-width="1.5" />
<path d="M418.5,100.9 L593.4,202.8 L738.9,118.8" fill="none" stroke="#3a3a3a" stroke-width="2.6" />
</g>
<g filter="url(#soft)">
<path d="M363.7,92.7 L404.6,92.7 M395.6,86.3 L405.6,92.7 L395.6,99.1" fill="none" stroke="#000" stroke-width="3.7" stroke-linecap="round" stroke-linejoin="round"/>
<path d="M363.7,165.1 L448.0,165.1 M439.0,158.7 L449.0,165.1 L439.0,171.5" fill="none" stroke="#000" stroke-width="3.7" stroke-linecap="round" stroke-linejoin="round"/>
<path d="M363.7,250.4 L446.2,250.4 M437.2,244.0 L447.2,250.4 L437.2,256.8" fill="none" stroke="#000" stroke-width="3.7" stroke-linecap="round" stroke-linejoin="round"/>
<path d="M363.7,332.5 L446.5,332.5 M437.5,326.1 L447.5,332.5 L437.5,338.9" fill="none" stroke="#000" stroke-width="3.7" stroke-linecap="round" stroke-linejoin="round"/>
<path d="M363.4,484.2 L443.4,432.7 M432.3,432.2 L444.2,432.2 L439.3,443.0" fill="none" stroke="#000" stroke-width="3.7" stroke-linecap="round" stroke-linejoin="round"/>
<path d="M363.4,484.2 L436.9,553.6 M434.7,542.8 L437.6,554.3 L425.9,552.1" fill="none" stroke="#000" stroke-width="3.7" stroke-linecap="round" stroke-linejoin="round"/>
<path d="M363.4,609.9 L596.6,522.3 M585.9,519.4 L597.5,521.9 L590.4,531.4" fill="none" stroke="#000" stroke-width="3.7" stroke-linecap="round" stroke-linejoin="round"/>
<path d="M365.2,675.6 L447.7,675.6 M438.7,669.2 L448.7,675.6 L438.7,682.0" fill="none" stroke="#000" stroke-width="3.7" stroke-linecap="round" stroke-linejoin="round"/>
<path d="M363.4,725.5 L622.4,725.5 M613.4,719.1 L623.4,725.5 L613.4,731.9" fill="none" stroke="#000" stroke-width="3.7" stroke-linecap="round" stroke-linejoin="round"/>
<text x="226.0" y="97.9" textLength="123.1" lengthAdjust="spacingAndGlyphs">Outer Cover</text>
<text x="236.3" y="168.5" textLength="115.3" lengthAdjust="spacingAndGlyphs">Inner Cover</text>
<text x="176.7" y="237.4" textLength="126.7" lengthAdjust="spacingAndGlyphs">Honey Super</text>
<text x="264.7" y="266.5" textLength="86.8" lengthAdjust="spacingAndGlyphs">(Deep or</text>
<text x="269.1" y="294.8" textLength="82.4" lengthAdjust="spacingAndGlyphs">Shallow)</text>
<text x="194.7" y="330.2" textLength="156.8" lengthAdjust="spacingAndGlyphs">Queen Excluder</text>
<text x="222.7" y="475.6" textLength="104.3" lengthAdjust="spacingAndGlyphs">Brood Box</text>
<text x="221.9" y="504.5" textLength="130.5" lengthAdjust="spacingAndGlyphs">(Deep Super)</text>
<text x="233.9" y="615.5" textLength="115.4" lengthAdjust="spacingAndGlyphs">Frames (10)</text>
<text x="209.9" y="679.4" textLength="138.5" lengthAdjust="spacingAndGlyphs">Bottom Board</text>
<text x="175.2" y="727.4" textLength="173.3" lengthAdjust="spacingAndGlyphs">Entrance Reducer</text>
</g>
</svg>
</body></html>
